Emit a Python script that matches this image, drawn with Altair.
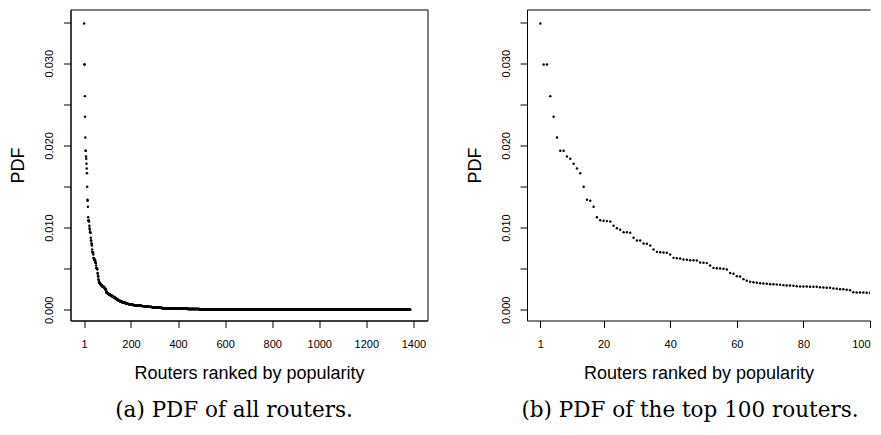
import altair as alt
import pandas as pd

# PDF of the most popular routers (ranks 1..101)
top_values = [
    0.03483, 0.02984, 0.02984, 0.02599, 0.02348, 0.02096, 0.01934, 0.01934, 0.01865, 0.01837,
    0.01776, 0.01719, 0.01662, 0.01496, 0.01338, 0.01326, 0.01253, 0.01125, 0.01090, 0.01083,
    0.01079, 0.01074, 0.01022, 0.00993, 0.00973, 0.00944, 0.00944, 0.00937, 0.00876, 0.00843,
    0.00843, 0.00807, 0.00803, 0.00782, 0.00734, 0.00705, 0.00701, 0.00697, 0.00693, 0.00673,
    0.00632, 0.00628, 0.00624, 0.00612, 0.00608, 0.00604, 0.00604, 0.00600, 0.00576, 0.00572,
    0.00568, 0.00539, 0.00510, 0.00506, 0.00502, 0.00500, 0.00490, 0.00448, 0.00438, 0.00409,
    0.00405, 0.00373, 0.00353, 0.00341, 0.00336, 0.00328, 0.00324, 0.00320, 0.00316, 0.00312,
    0.00312, 0.00308, 0.00304, 0.00300, 0.00296, 0.00296, 0.00292, 0.00287, 0.00283, 0.00283,
    0.00283, 0.00280, 0.00280, 0.00280, 0.00275, 0.00271, 0.00268, 0.00268, 0.00259, 0.00255,
    0.00251, 0.00251, 0.00243, 0.00238, 0.00214, 0.00210, 0.00210, 0.00210, 0.00207, 0.00207,
    0.00202,
]

# Long tail (ranks 102..1387), as plateaus: value and number of routers
tail_values = [
    0.00198, 0.00190, 0.00180, 0.00170, 0.00160, 0.00150, 0.00140, 0.00130, 0.00120,
    0.00110, 0.00100, 0.00092, 0.00085, 0.00078, 0.00072,
    0.00067, 0.00062, 0.00057, 0.00053, 0.00049, 0.00045, 0.00041,
    0.00036, 0.00032, 0.00028, 0.00024, 0.00020, 0.00018,
    0.00016, 0.00014, 0.00012, 0.00010, 0.00008, 0.00007, 0.00006, 0.00005, 0.00004, 0.00003, 0.00002,
]
tail_counts = [
    3, 5, 5, 6, 6, 6, 5, 5, 5,
    6, 8, 8, 7, 7, 7,
    9, 10, 11, 12, 13, 14, 15,
    14, 14, 15, 14, 14, 14,
    20, 23, 38, 50, 60, 70, 90, 110, 160, 190, 217,
]

y_ticks = [0.0, 0.005, 0.010, 0.015, 0.020, 0.025, 0.030, 0.035]
x_ticks_all = [1, 200, 400, 600, 800, 1000, 1200, 1400]
x_ticks_top = [1, 20, 40, 60, 80, 100]

pdf_all = list(top_values)
for v, c in zip(tail_values, tail_counts):
    pdf_all.extend([v] * c)
df = pd.DataFrame({"rank": list(range(1, len(pdf_all) + 1)), "pdf": pdf_all})
df_top = df[df["rank"] <= 100]

y_dom = [-0.0013, 0.03653]
x_dom_all = [-57, 1460]
x_dom_top = [-3, 100]


def y_enc():
    return alt.Y(
        "pdf:Q",
        scale=alt.Scale(domain=y_dom, nice=False, zero=False),
        axis=alt.Axis(
            values=y_ticks,
            labelExpr="(round(datum.value*1000) % 10 == 0) ? format(datum.value, '.3f') : ''",
            labelAngle=270,
            labelAlign="center",
            labelBaseline="alphabetic",
            labelPadding=11,
            tickSize=7,
            title="PDF",
            titleAngle=270,
            titleBaseline="alphabetic",
            titleX=-47,
            domain=True,
        ),
    )


def x_axis(vals, flush):
    return alt.Axis(
        values=vals,
        format="d",
        tickSize=7,
        labelPadding=11,
        labelFlush=flush,
        labelOverlap=False,
        title="Routers ranked by popularity",
        titleBaseline="alphabetic",
        titleY=58,
        domain=True,
    )


left = alt.Chart(df).mark_circle(size=6, color="black", opacity=1).encode(
    x=alt.X("rank:Q", scale=alt.Scale(domain=x_dom_all, nice=False, zero=False),
            axis=x_axis(x_ticks_all, False)),
    y=y_enc(),
).properties(
    width=357,
    height=311,
    title=alt.TitleParams("(a) PDF of all routers.", orient="bottom", anchor="middle",
                          frame="group", dx=-15, offset=34, baseline="alphabetic"),
)

x_top_scale = alt.Scale(domain=x_dom_top, nice=False, zero=False)
right_pts = alt.Chart(df_top).mark_circle(size=6, color="black", opacity=1, clip=True).encode(
    x=alt.X("rank:Q", scale=x_top_scale, axis=x_axis(x_ticks_top, True)),
    y=y_enc(),
)
right_frame_top = alt.Chart(df_top).mark_circle(opacity=0, clip=True).encode(
    x=alt.X("rank:Q", scale=x_top_scale,
            axis=alt.Axis(orient="top", labels=False, ticks=False, domain=True, title=None)),
    y=alt.Y("pdf:Q", scale=alt.Scale(domain=y_dom, nice=False, zero=False)),
)
right = alt.layer(right_pts, right_frame_top).resolve_axis(x="independent").properties(
    width=343,
    height=311,
    view=alt.ViewBackground(stroke=None),
    title=alt.TitleParams("(b) PDF of the top 100 routers.", orient="bottom", anchor="middle",
                          frame="group", dx=-8.5, offset=34, baseline="alphabetic"),
)

chart = alt.hconcat(left, right, spacing=37.5).properties(
    padding={"left": 0.5, "top": 0.5, "right": 0, "bottom": 0},
    background="white",
).configure_view(
    stroke="black", strokeWidth=1,
).configure_axis(
    labelFont="Liberation Sans", labelFontSize=11, labelColor="black",
    tickColor="black", tickWidth=1, domainColor="black", domainWidth=1,
    titleFont="Liberation Sans", titleFontSize=18, titleFontWeight="normal", titleColor="black",
    grid=False,
).configure_title(
    font="DejaVu Serif", fontSize=21.5, fontWeight="normal", color="black",
)

chart.save("out.html", embed_options={"renderer": "svg", "actions": False})
